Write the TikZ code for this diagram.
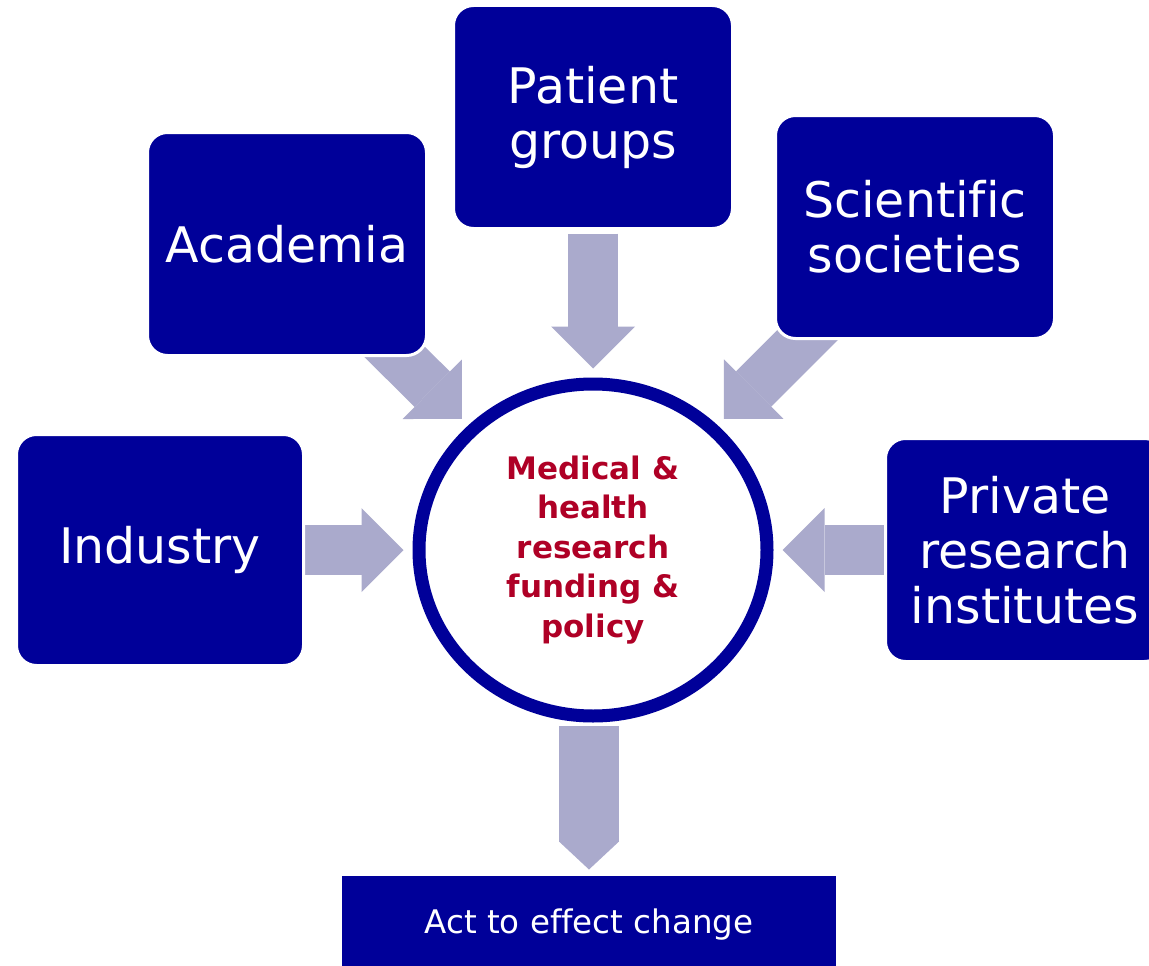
\documentclass[tikz,border=0pt]{standalone}
\usepackage{fontspec}
\setmainfont[Ligatures=NoCommon]{DejaVu Sans}
\usetikzlibrary{arrows.meta,shapes.geometric}

\definecolor{boxblue}{RGB}{0,0,153}
\definecolor{arrowgrey}{RGB}{170,170,204}
\definecolor{hubred}{RGB}{175,0,38}

\pgfdeclarelayer{back}
\pgfsetlayers{back,main}

\tikzset{
	party/.style={fill=boxblue, draw=white, line width=3pt, rounded corners=20pt,
		text=white, align=center, inner sep=0pt, minimum width=279pt, minimum height=223pt,
		font=\fontsize{49}{55}\selectfont},
	feed/.style={arrowgrey, line width=50pt,
		-{Triangle[width=84pt,length=42pt,line width=0pt]}, shorten >=9pt},
}

\begin{document}
\begin{tikzpicture}[x=1pt,y=-1pt]
	\clip (0,0) rectangle (1149,966);
	% centre
	\node[ellipse, draw=boxblue, fill=white, line width=13pt, inner sep=0pt,
		minimum width=348pt, minimum height=332pt, text=hubred, align=center,
		font=\bfseries\fontsize{31}{39.5}\selectfont] (hub) at (593,550)
		{Medical \&\\health\\research\\funding \&\\policy};
	% boxes round it
	\node[party] (academia) at (287,244) {Academia};
	\node[party] (patient) at (593,117) {Patient\\groups};
	\node[party] (science) at (915,227) {Scientific\\societies};
	\node[party, minimum width=287pt, minimum height=231pt] (industry) at (160,550) {Industry};
	\node[party] (private) at (1025,550) {Private\\research\\institutes};
	\node[party, sharp corners, minimum width=497pt, minimum height=101pt,
		font=\fontsize{32.5}{39}\selectfont] (act) at (589,925) {Act to effect change};
	% arrows behind the boxes
	\begin{pgfonlayer}{back}
		\fill[white] (0,0) rectangle (1149,966);
		\draw[feed, shorten <=3.5pt] (patient) -- (hub);
		\draw[feed, shorten <=-25pt] (academia) -- (hub);
		\draw[feed, shorten <=-25pt] (science) -- (hub);
		\draw[feed] (industry) -- (hub);
		\draw[feed] (private) -- (hub);
		% arrow from centre to act box
		\draw[arrowgrey, line width=60pt, -{Triangle[width=60pt,length=28pt,line width=0pt]},
			shorten <=3.5pt, shorten >=3.5pt] (hub.south -| act.north) -- (act.north);
	\end{pgfonlayer}
\end{tikzpicture}
\end{document}
